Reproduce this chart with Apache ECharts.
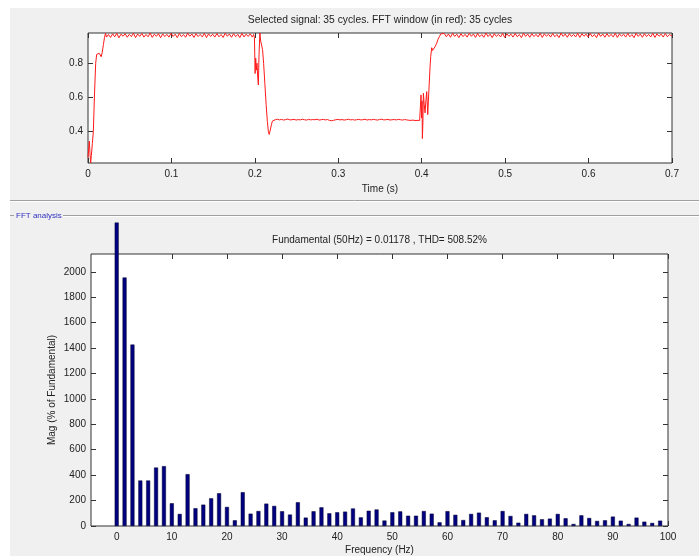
<!DOCTYPE html>
<html>
<head>
<meta charset="utf-8">
<script src="https://cdn.jsdelivr.net/npm/echarts@6/dist/echarts.min.js"></script>
<style>
html,body{margin:0;padding:0;background:#ffffff;}
#bg{position:absolute;left:10px;top:8px;width:689px;height:548px;background:#f0f0f0;}
#chart{position:absolute;left:0;top:0;width:699px;height:556px;}
</style>
</head>
<body>
<div id="bg"></div>
<div id="chart"></div>
<script>
// ---- top panel: selected signal ----
const sigTime = [
  0, 0.0008, 0.0016, 0.0024, 0.0032, 0.004, 0.0052, 0.0064, 0.0078, 0.0092,
  0.0104, 0.012, 0.0136, 0.015, 0.0158, 0.017, 0.0185, 0.0198, 0.021, 0.0222,
  0.0245, 0.027, 0.0295, 0.032, 0.0345, 0.037, 0.0395, 0.042, 0.0445, 0.047,
  0.0495, 0.052, 0.0545, 0.057, 0.0595, 0.062, 0.0645, 0.067, 0.0695, 0.072,
  0.0745, 0.077, 0.0795, 0.082, 0.0845, 0.087, 0.0895, 0.092, 0.0945, 0.097,
  0.0995, 0.102, 0.1045, 0.107, 0.1095, 0.112, 0.1145, 0.117, 0.1195, 0.122,
  0.1245, 0.127, 0.1295, 0.132, 0.1345, 0.137, 0.1395, 0.142, 0.1445, 0.147,
  0.1495, 0.152, 0.1545, 0.157, 0.1595, 0.162, 0.1645, 0.167, 0.1695, 0.172,
  0.1745, 0.177, 0.1795, 0.182, 0.1845, 0.187, 0.1895, 0.192, 0.1945, 0.197,
  0.1985, 0.1995, 0.2003, 0.201, 0.2018, 0.2026, 0.2034, 0.2042, 0.205, 0.206,
  0.207, 0.208, 0.2092, 0.2105, 0.212, 0.2135, 0.215, 0.2162, 0.2172, 0.2185,
  0.2198, 0.221, 0.2225,
  0.2245, 0.227, 0.2295, 0.232, 0.2345, 0.237, 0.2395, 0.242, 0.2445, 0.247,
  0.2495, 0.252, 0.2545, 0.257, 0.2595, 0.262, 0.2645, 0.267, 0.2695, 0.272,
  0.2745, 0.277, 0.2795, 0.282, 0.2845, 0.287, 0.2895, 0.292, 0.2945, 0.297,
  0.2995, 0.302, 0.3045, 0.307, 0.3095, 0.312, 0.3145, 0.317, 0.3195, 0.322,
  0.3245, 0.327, 0.3295, 0.332, 0.3345, 0.337, 0.3395, 0.342, 0.3445, 0.347,
  0.3495, 0.352, 0.3545, 0.357, 0.3595, 0.362, 0.3645, 0.367, 0.3695, 0.372,
  0.3745, 0.377, 0.3795, 0.382, 0.3845, 0.387, 0.3895, 0.392, 0.3945, 0.3965,
  0.3975, 0.3985, 0.3992, 0.3998, 0.4004, 0.4008, 0.4014, 0.402, 0.403, 0.404,
  0.405, 0.406, 0.4072, 0.408, 0.409, 0.41, 0.4108, 0.412, 0.413, 0.414,
  0.415, 0.416, 0.417, 0.418, 0.4195, 0.4212, 0.4228,
  0.4245, 0.427, 0.4295, 0.432, 0.4345, 0.437, 0.4395, 0.442, 0.4445, 0.447,
  0.4495, 0.452, 0.4545, 0.457, 0.4595, 0.462, 0.4645, 0.467, 0.4695, 0.472,
  0.4745, 0.477, 0.4795, 0.482, 0.4845, 0.487, 0.4895, 0.492, 0.4945, 0.497,
  0.4995, 0.502, 0.5045, 0.507, 0.5095, 0.512, 0.5145, 0.517, 0.5195, 0.522,
  0.5245, 0.527, 0.5295, 0.532, 0.5345, 0.537, 0.5395, 0.542, 0.5445, 0.547,
  0.5495, 0.552, 0.5545, 0.557, 0.5595, 0.562, 0.5645, 0.567, 0.5695, 0.572,
  0.5745, 0.577, 0.5795, 0.582, 0.5845, 0.587, 0.5895, 0.592, 0.5945, 0.597,
  0.5995, 0.602, 0.6045, 0.607, 0.6095, 0.612, 0.6145, 0.617, 0.6195, 0.622,
  0.6245, 0.627, 0.6295, 0.632, 0.6345, 0.637, 0.6395, 0.642, 0.6445, 0.647,
  0.6495, 0.652, 0.6545, 0.657, 0.6595, 0.662, 0.6645, 0.667, 0.6695, 0.672,
  0.6745, 0.677, 0.6795, 0.682, 0.6845, 0.687, 0.6895, 0.692, 0.6945, 0.697,
  0.7
];
const sigValue = [
  0.25, 0.3, 0.345, 0.27, 0.217, 0.26, 0.33, 0.40, 0.62, 0.80,
  0.852, 0.862, 0.858, 0.85, 0.838, 0.862, 0.91, 0.952, 0.975, 0.953,
  0.968, 0.951, 0.972, 0.955, 0.975, 0.949, 0.97, 0.958, 0.973, 0.952,
  0.969, 0.956, 0.976, 0.95, 0.971, 0.957, 0.974, 0.953, 0.968, 0.955,
  0.977, 0.951, 0.97, 0.958, 0.973, 0.949, 0.972, 0.956, 0.969, 0.953,
  0.975, 0.957, 0.97, 0.95, 0.974, 0.955, 0.968, 0.952, 0.976, 0.958,
  0.971, 0.951, 0.973, 0.956, 0.969, 0.954, 0.975, 0.95, 0.972, 0.957,
  0.97, 0.953, 0.974, 0.955, 0.968, 0.951, 0.976, 0.958, 0.971, 0.952,
  0.973, 0.956, 0.969, 0.95, 0.975, 0.954, 0.97, 0.957, 0.972, 0.953,
  0.968, 0.95, 0.74, 0.83, 0.76, 0.80, 0.72, 0.673, 0.85, 0.977,
  0.93, 0.907, 0.88, 0.80, 0.68, 0.56, 0.46, 0.40, 0.384, 0.41,
  0.44, 0.462, 0.472,
  0.470, 0.473, 0.469, 0.472, 0.468, 0.471, 0.474, 0.469, 0.47, 0.472,
  0.468, 0.471, 0.469, 0.473, 0.47, 0.468, 0.472, 0.469, 0.471, 0.47,
  0.473, 0.468, 0.47, 0.472, 0.469, 0.471, 0.466, 0.464, 0.467, 0.47,
  0.472, 0.469, 0.471, 0.468, 0.47, 0.473, 0.469, 0.471, 0.468, 0.47,
  0.472, 0.469, 0.47, 0.473, 0.468, 0.471, 0.469, 0.472, 0.47, 0.468,
  0.471, 0.473, 0.469, 0.47, 0.472, 0.468, 0.47, 0.471, 0.469, 0.472,
  0.47, 0.468, 0.471, 0.469, 0.467, 0.466, 0.468, 0.465, 0.466, 0.467,
  0.466, 0.47, 0.615, 0.48, 0.58, 0.36, 0.45, 0.625, 0.56, 0.51,
  0.58, 0.634, 0.50, 0.58, 0.68, 0.78, 0.84, 0.891, 0.875, 0.878,
  0.885, 0.897, 0.905, 0.917, 0.94, 0.956, 0.972,
  0.962, 0.974, 0.955, 0.971, 0.952, 0.976, 0.957, 0.97, 0.95, 0.973,
  0.956, 0.969, 0.953, 0.975, 0.958, 0.971, 0.951, 0.974, 0.955, 0.968,
  0.952, 0.977, 0.956, 0.97, 0.95, 0.973, 0.957, 0.969, 0.954, 0.975,
  0.951, 0.972, 0.958, 0.97, 0.953, 0.974, 0.955, 0.968, 0.95, 0.976,
  0.957, 0.971, 0.952, 0.973, 0.956, 0.969, 0.954, 0.975, 0.951, 0.972,
  0.958, 0.97, 0.953, 0.974, 0.955, 0.968, 0.95, 0.976, 0.957, 0.971,
  0.952, 0.973, 0.956, 0.969, 0.954, 0.975, 0.951, 0.972, 0.958, 0.97,
  0.953, 0.974, 0.955, 0.968, 0.95, 0.976, 0.957, 0.971, 0.952, 0.973,
  0.956, 0.969, 0.954, 0.975, 0.951, 0.972, 0.958, 0.97, 0.953, 0.974,
  0.955, 0.968, 0.95, 0.976, 0.957, 0.971, 0.952, 0.973, 0.956, 0.969,
  0.954, 0.975, 0.951, 0.972, 0.958, 0.97, 0.953, 0.974, 0.955, 0.968,
  0.96
];
const timeTicks = [0, 0.1, 0.2, 0.3, 0.4, 0.5, 0.6, 0.7];
const sigTicks = [0.4, 0.6, 0.8];

// ---- bottom panel: FFT spectrum ----
const freqHz = [
  0, 1.43, 2.86, 4.29, 5.71, 7.14, 8.57, 10, 11.43, 12.86,
  14.29, 15.71, 17.14, 18.57, 20, 21.43, 22.86, 24.29, 25.71, 27.14,
  28.57, 30, 31.43, 32.86, 34.29, 35.71, 37.14, 38.57, 40, 41.43,
  42.86, 44.29, 45.71, 47.14, 48.57, 50, 51.43, 52.86, 54.29, 55.71,
  57.14, 58.57, 60, 61.43, 62.86, 64.29, 65.71, 67.14, 68.57, 70,
  71.43, 72.86, 74.29, 75.71, 77.14, 78.57, 80, 81.43, 82.86, 84.29,
  85.71, 87.14, 88.57, 90, 91.43, 92.86, 94.29, 95.71, 97.14, 98.57
];
const magPct = [
  2387, 1955, 1427, 358, 358, 460, 471, 179, 95, 408,
  140, 168, 218, 258, 150, 45, 266, 97, 118, 176,
  158, 116, 90, 187, 66, 116, 147, 100, 108, 113,
  138, 68, 120, 130, 43, 108, 115, 81, 81, 118,
  97, 29, 117, 88, 47, 95, 105, 69, 45, 118,
  79, 26, 95, 84, 53, 58, 95, 61, 16, 84,
  63, 40, 45, 74, 42, 16, 66, 34, 24, 42
];
const freqTicks = [0, 10, 20, 30, 40, 50, 60, 70, 80, 90, 100];
const magTicks = [0, 200, 400, 600, 800, 1000, 1200, 1400, 1600, 1800, 2000];

const FONT = "'Liberation Sans', Arial, sans-serif";
const plainFmt = v => String(Math.round(v * 1000) / 1000);

function xAx(grid, min, max, pos, ticks, showLabel, name, nameGap) {
  return {
    type: 'value', gridIndex: grid, min: min, max: max, position: pos,
    axisLine: {show: false, onZero: false}, splitLine: {show: false},
    axisTick: {show: true, inside: true, length: 5, customValues: ticks, lineStyle: {color: '#333', width: 1}},
    axisLabel: {show: showLabel, customValues: ticks, formatter: plainFmt, margin: 6, fontSize: 10, fontFamily: FONT, color: '#222'},
    name: name || '', nameLocation: 'middle', nameGap: nameGap || 0, nameMoveOverlap: false,
    nameTextStyle: {fontSize: 10, fontFamily: FONT, color: '#222'}
  };
}
function yAx(grid, min, max, pos, ticks, showLabel, name, nameGap) {
  return {
    type: 'value', gridIndex: grid, min: min, max: max, position: pos,
    axisLine: {show: false, onZero: false}, splitLine: {show: false},
    axisTick: {show: true, inside: true, length: 5, customValues: ticks, lineStyle: {color: '#333', width: 1}},
    axisLabel: {show: showLabel, customValues: ticks, formatter: plainFmt, margin: 5, fontSize: 10, fontFamily: FONT, color: '#222'},
    name: name || '', nameLocation: 'middle', nameGap: nameGap || 0, nameMoveOverlap: false,
    nameTextStyle: {fontSize: 10, fontFamily: FONT, color: '#222'}
  };
}

const chart = echarts.init(document.getElementById('chart'), null, {renderer: 'canvas'});
chart.setOption({
  animation: false,
  backgroundColor: 'transparent',
  grid: [
    {left: 88, top: 33, width: 584, height: 130, show: true, backgroundColor: '#fff', borderColor: '#333', borderWidth: 1},
    {left: 91, top: 254, width: 577, height: 272, show: true, backgroundColor: '#fff', borderColor: '#333', borderWidth: 1}
  ],
  xAxis: [
    xAx(0, 0, 0.7, 'bottom', timeTicks, true, 'Time (s)', 21),
    xAx(0, 0, 0.7, 'top', timeTicks, false),
    xAx(1, -4.66, 100, 'bottom', freqTicks, true, 'Frequency (Hz)', 19),
    xAx(1, -4.66, 100, 'top', freqTicks, false)
  ],
  yAxis: [
    yAx(0, 0.217, 0.977, 'left', sigTicks, true),
    yAx(0, 0.217, 0.977, 'right', sigTicks, false),
    yAx(1, 0, 2140, 'left', magTicks, true, 'Mag (% of Fundamental)', 34),
    yAx(1, 0, 2140, 'right', magTicks, false)
  ],
  graphic: [
    {type: 'text', x: 380, y: 20, style: {text: 'Selected signal: 35 cycles. FFT window (in red): 35 cycles', textAlign: 'center', align: 'center', textVerticalAlign: 'middle', verticalAlign: 'middle', font: '10.3px ' + FONT, fill: '#222'}},
    {type: 'text', x: 379.5, y: 240, style: {text: 'Fundamental (50Hz) = 0.01178 , THD= 508.52%', textAlign: 'center', align: 'center', textVerticalAlign: 'middle', verticalAlign: 'middle', font: '10px ' + FONT, fill: '#222'}},
    {type: 'line', shape: {x1: 10, y1: 200.5, x2: 699, y2: 200.5}, style: {stroke: '#a0a0a0', lineWidth: 1}},
    {type: 'line', shape: {x1: 10, y1: 201.5, x2: 699, y2: 201.5}, style: {stroke: '#ffffff', lineWidth: 1}},
    {type: 'line', shape: {x1: 10, y1: 215.5, x2: 14, y2: 215.5}, style: {stroke: '#a0a0a0', lineWidth: 1}},
    {type: 'line', shape: {x1: 63, y1: 215.5, x2: 699, y2: 215.5}, style: {stroke: '#a0a0a0', lineWidth: 1}},
    {type: 'line', shape: {x1: 63, y1: 216.5, x2: 699, y2: 216.5}, style: {stroke: '#ffffff', lineWidth: 1}},
    {type: 'text', x: 16, y: 215.5, style: {text: 'FFT analysis', textAlign: 'left', align: 'left', textVerticalAlign: 'middle', verticalAlign: 'middle', font: '8px ' + FONT, fill: '#3030c0'}}
  ],
  series: [
    {
      type: 'line', xAxisIndex: 0, yAxisIndex: 0, showSymbol: false, symbol: 'none',
      lineStyle: {color: '#ff1a1a', width: 1}, clip: true,
      data: sigTime.map((t, i) => [t, sigValue[i]])
    },
    {
      type: 'bar', xAxisIndex: 2, yAxisIndex: 2, barWidth: 4, clip: false,
      itemStyle: {color: '#000080', borderColor: '#000030', borderWidth: 0.5},
      data: freqHz.map((f, i) => [f, magPct[i]])
    }
  ]
});
</script>
</body>
</html>
